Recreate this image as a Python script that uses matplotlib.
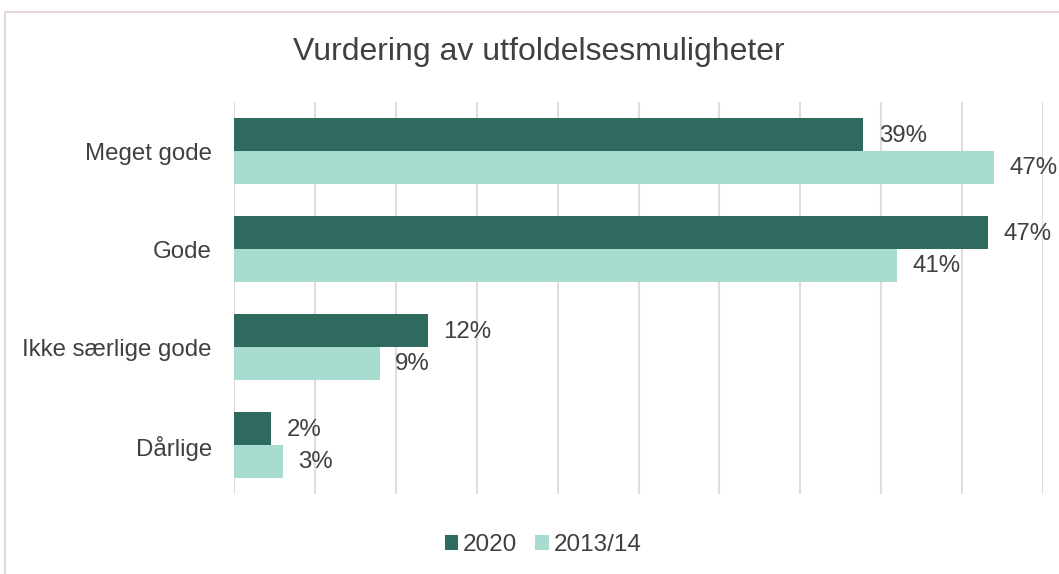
import matplotlib
matplotlib.use("Agg")
import matplotlib.pyplot as plt
from matplotlib.patches import Rectangle

plt.rcParams['font.family'] = ['Liberation Sans', 'DejaVu Sans']

categories = ["Meget gode", "Gode", "Ikke særlige gode", "Dårlige"]
series_names = ["2020", "2013/14"]
values_2020 = [0.389, 0.466, 0.120, 0.023]
values_2013 = [0.470, 0.410, 0.090, 0.030]
labels_2020 = ["39%", "47%", "12%", "2%"]
labels_2013 = ["47%", "41%", "9%", "3%"]

dark = "#2E6B5E"
light = "#A8DCD1"
txt = "#404040"
grid = "#E6D8DE"

W, H = 1059, 574
fig = plt.figure(figsize=(W / 100, H / 100), dpi=100)
fig.patch.set_facecolor("white")

# chart border
fig.add_artist(Rectangle((5 / W, -0.1), 1.2, (H - 12) / H + 0.1, transform=fig.transFigure,
                         fill=False, edgecolor="#E3D6DC", linewidth=1.5))

ax = fig.add_axes([234 / W, 1 - 494 / H, (1043 - 234) / W, (494 - 102) / H])
ax.set_xlim(0, 0.5)
ax.set_ylim(3.5, -0.5)

bh = 0.335
ys = list(range(len(categories)))
ax.barh([y - bh / 2 for y in ys], values_2020, height=bh, color=dark, label=series_names[0], zorder=3)
ax.barh([y + bh / 2 for y in ys], values_2013, height=bh, color=light, label=series_names[1], zorder=3)

for y, v, l in zip(ys, values_2020, labels_2020):
    ax.text(v + 0.0095, y - bh / 2 + 0.01, l, va="center", ha="left", fontsize=17.3, color=txt)
for y, v, l in zip(ys, values_2013, labels_2013):
    ax.text(v + 0.0095, y + bh / 2 + 0.01, l, va="center", ha="left", fontsize=17.3, color=txt)

ax.set_xticks([i * 0.05 for i in range(11)])
ax.set_xticklabels([])
ax.tick_params(axis="x", length=0)
ax.xaxis.grid(True, color=grid, linewidth=1.5, zorder=0)
ax.set_axisbelow(True)
ax.set_yticks([y + 0.01 for y in ys])
ax.set_yticklabels(categories, fontsize=17.3, color=txt)
ax.tick_params(axis="y", length=0, pad=16)
for s in ax.spines.values():
    s.set_visible(False)

fig.text(539 / W, 1 - 52 / H, "Vurdering av utfoldelsesmuligheter", ha="center", va="center",
         fontsize=23, color=txt)

leg = fig.legend(loc="center", bbox_to_anchor=(543 / W, 1 - 545 / H), ncol=2, frameon=False,
                 fontsize=17.5, handlelength=0.55, handleheight=0.55, handletextpad=0.2,
                 columnspacing=0.75)
for t in leg.get_texts():
    t.set_color(txt)

fig.savefig("out.png", dpi=100, facecolor="white")
